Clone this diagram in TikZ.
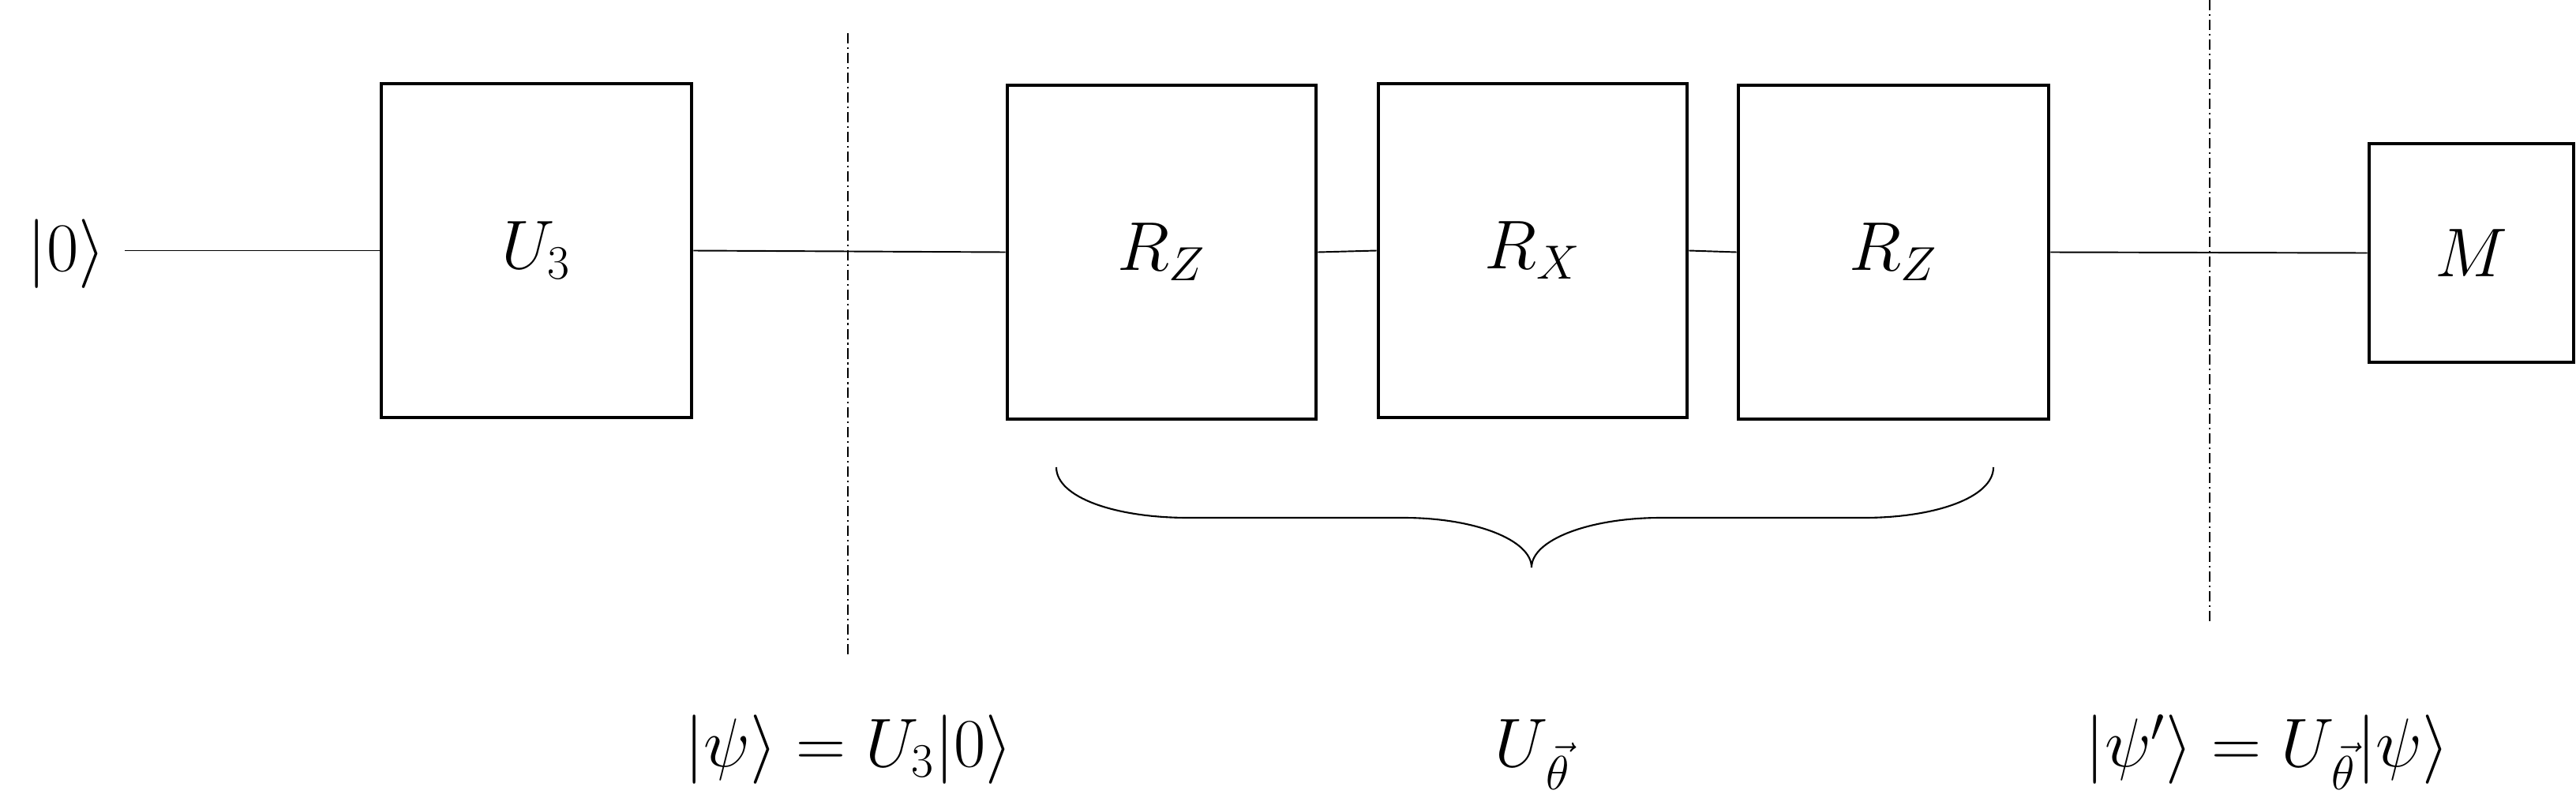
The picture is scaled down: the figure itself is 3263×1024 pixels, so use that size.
\documentclass[tikz,border=0pt]{standalone}
\begin{document}
\begin{tikzpicture}[x=0.01cm,y=-0.01cm,
  every node/.style={font=\fontsize{23.5}{28}\selectfont},
  gate/.style={draw, line width=1.3pt, inner sep=0pt, minimum height=4.23cm},
  wire/.style={line width=0.55pt},
  sepline/.style={line width=0.6pt, dash pattern=on 3.7pt off 1.4pt on 0.6pt off 1.4pt},
  bracestyle/.style={line width=0.6pt},
  lbl/.style={anchor=base, inner sep=0pt}]
\useasboundingbox (0,0) rectangle (3263,1024);
% input ket
\node[inner sep=0pt] (ket0) at (84,322) {$|0\rangle$};
\coordinate (w0) at (158,318);
% gates
\node[gate, minimum width=3.93cm] (U3) at (679.5,317.5) {$U_3$};
\node[gate, minimum width=3.91cm] (RZa) at (1471.5,319.5) {$R_Z$};
\node[gate, minimum width=3.91cm] (RX) at (1941.5,317.5) {$R_X$};
\node[gate, minimum width=3.93cm] (RZb) at (2398.5,319.5) {$R_Z$};
\node[gate, minimum width=2.59cm, minimum height=2.77cm] (M) at (3130.5,320.5) {$M$};
% wires
\draw[wire] (w0 |- U3.west) -- (U3.west);
\draw[wire] (U3.east) -- (RZa.west);
\draw[wire] (RZa.east) -- (RX.west);
\draw[wire] (RX.east) -- (RZb.west);
\draw[wire] (RZb.east) -- (M.west);
% separators
\coordinate (s1t) at (1074,42);
\coordinate (s1b) at (1074,833);
\coordinate (s2t) at (2799,0);
\coordinate (s2b) at (2799,790);
\draw[sepline] (s1t) -- (s1b);
\draw[sepline] (s2t) -- (s2b);
% brace
\coordinate (bl) at (1338,592);
\coordinate (tip) at (1940,719);
\coordinate (br) at (2525,592);
\draw[bracestyle] (bl) .. controls (1338,630) and (1412,656) .. (1505,656)
  -- (1778,656) .. controls (1868,656) and (1940,684) .. (tip)
  .. controls (1940,684) and (2013,656) .. (2104,656)
  -- (2361,656) .. controls (2452,656) and (2525,630) .. (br);
% bottom labels
\node[lbl] (L1) at (1075,971) {$|\psi\rangle = U_3|0\rangle$};
\node[lbl] (L2) at (1942,971) {$U_{\mkern2mu\vec{\theta}}$};
\node[lbl] (L3) at (2872,971) {$|\psi'\rangle = U_{\mkern2mu\vec{\theta}}|\psi\rangle$};
\end{tikzpicture}
\end{document}
